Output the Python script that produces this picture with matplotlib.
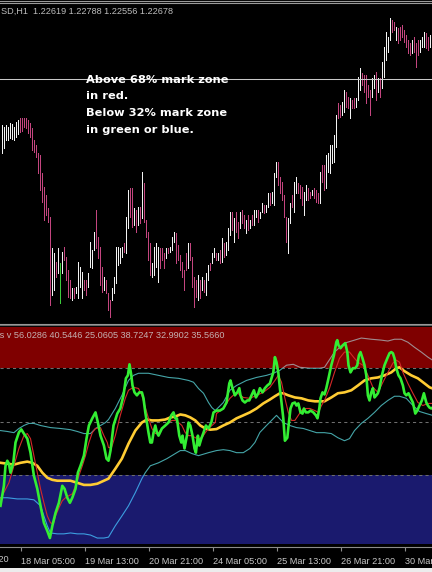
import matplotlib
matplotlib.use("Agg")
import matplotlib.pyplot as plt
from matplotlib.patches import Rectangle
from matplotlib.lines import Line2D

# ---------------- data ----------------
symbol_title = "SD,H1  1.22619 1.22788 1.22556 1.22678"
ind_title = "ts v 56.0286 40.5446 25.0605 38.7247 32.9902 35.5660"
note_lines = ["Above 68% mark zone", "in red.", "Below 32% mark zone", "in green or blue."]
hline_level = 1.2195

bar_high = [
    1.2103, 1.2099, 1.2103, 1.2099, 1.2107, 1.2105, 1.2099, 1.2109, 1.2113, 1.2117,
    1.2117, 1.2117, 1.2117, 1.2113, 1.2107, 1.2097, 1.2073, 1.2063, 1.2047, 1.2043,
    1.2007, 1.1979, 1.1963, 1.1937, 1.1919, 1.1857, 1.1847, 1.1829, 1.1857, 1.1827,
    1.1849, 1.1859, 1.1839, 1.1813, 1.1793, 1.1777, 1.1777, 1.1779, 1.1829, 1.1819,
    1.1809, 1.1793, 1.1793, 1.1807, 1.1869, 1.1853, 1.1889, 1.1933, 1.1879, 1.1859,
    1.1819, 1.1799, 1.1793, 1.1767, 1.1753, 1.1777, 1.1799, 1.1859, 1.1859, 1.1857,
    1.1859, 1.1867, 1.1919, 1.1973, 1.1977, 1.1977, 1.1937, 1.1933, 1.1939, 1.1939,
    1.2009, 1.1987, 1.1913, 1.1889, 1.1867, 1.1827, 1.1859, 1.1867, 1.1859, 1.1857,
    1.1857, 1.1847, 1.1857, 1.1857, 1.1859, 1.1879, 1.1889, 1.1887, 1.1863, 1.1843,
    1.1829, 1.1813, 1.1847, 1.1867, 1.1867, 1.1839, 1.1799, 1.1793, 1.1803, 1.1793,
    1.1799, 1.1793, 1.1807, 1.1823, 1.1827, 1.1847, 1.1857, 1.1847, 1.1847, 1.1853,
    1.1877, 1.1867, 1.1869, 1.1897, 1.1929, 1.1929, 1.1917, 1.1929, 1.1909, 1.1929,
    1.1933, 1.1923, 1.1913, 1.1923, 1.1913, 1.1923, 1.1933, 1.1933, 1.1933, 1.1929,
    1.1947, 1.1943, 1.1943, 1.1967, 1.1967, 1.1969, 1.2007, 1.2029, 1.2029, 1.1999,
    1.1989, 1.1963, 1.1919, 1.1917, 1.1947, 1.1963, 1.1989, 1.1999, 1.1987, 1.1983,
    1.1979, 1.1969, 1.1983, 1.1977, 1.1969, 1.1973, 1.1977, 1.1973, 1.1967, 1.2009,
    1.2023, 1.2023, 1.2043, 1.2047, 1.2063, 1.2063, 1.2083, 1.2123, 1.2147, 1.2143,
    1.2149, 1.2173, 1.2169, 1.2159, 1.2157, 1.2153, 1.2157, 1.2157, 1.2199, 1.2217,
    1.2207, 1.2203, 1.2203, 1.2183, 1.2173, 1.2197, 1.2203, 1.2209, 1.2197, 1.2197,
    1.2229, 1.2259, 1.2289, 1.2279, 1.2317, 1.2313, 1.2309, 1.2299, 1.2297, 1.2299,
    1.2303, 1.2293, 1.2283, 1.2273, 1.2267, 1.2273, 1.2279, 1.2267, 1.2273, 1.2273,
    1.2279, 1.2289, 1.2287, 1.2279, 1.2283, 1.2279,
]
bar_low = [
    1.2047, 1.2057, 1.2073, 1.2073, 1.2077, 1.2075, 1.2073, 1.2079, 1.2085, 1.2089,
    1.2091, 1.2099, 1.2097, 1.2087, 1.2079, 1.2053, 1.2049, 1.2039, 1.2007, 1.1973,
    1.1949, 1.1913, 1.1923, 1.1909, 1.1743, 1.1763, 1.1773, 1.1799, 1.1807, 1.1747,
    1.1807, 1.1833, 1.1793, 1.1759, 1.1757, 1.1753, 1.1757, 1.1767, 1.1757, 1.1779,
    1.1757, 1.1773, 1.1763, 1.1779, 1.1819, 1.1817, 1.1853, 1.1857, 1.1837, 1.1783,
    1.1769, 1.1773, 1.1767, 1.1733, 1.1719, 1.1753, 1.1767, 1.1787, 1.1823, 1.1827,
    1.1839, 1.1849, 1.1847, 1.1897, 1.1919, 1.1899, 1.1903, 1.1889, 1.1903, 1.1907,
    1.1917, 1.1909, 1.1879, 1.1833, 1.1803, 1.1799, 1.1803, 1.1819, 1.1789, 1.1817,
    1.1833, 1.1817, 1.1837, 1.1847, 1.1849, 1.1853, 1.1869, 1.1827, 1.1833, 1.1813,
    1.1799, 1.1773, 1.1813, 1.1817, 1.1833, 1.1779, 1.1739, 1.1759, 1.1753, 1.1757,
    1.1773, 1.1769, 1.1763, 1.1793, 1.1813, 1.1827, 1.1839, 1.1833, 1.1833, 1.1827,
    1.1829, 1.1839, 1.1843, 1.1853, 1.1883, 1.1893, 1.1869, 1.1889, 1.1877, 1.1897,
    1.1907, 1.1897, 1.1887, 1.1893, 1.1897, 1.1903, 1.1903, 1.1919, 1.1909, 1.1917,
    1.1929, 1.1927, 1.1929, 1.1939, 1.1943, 1.1947, 1.1943, 1.1999, 1.1983, 1.1967,
    1.1953, 1.1919, 1.1869, 1.1847, 1.1907, 1.1939, 1.1929, 1.1967, 1.1967, 1.1957,
    1.1943, 1.1923, 1.1953, 1.1953, 1.1957, 1.1963, 1.1957, 1.1949, 1.1947, 1.1947,
    1.1989, 1.1973, 1.1977, 1.2009, 1.2007, 1.2027, 1.2029, 1.2059, 1.2117, 1.2119,
    1.2123, 1.2129, 1.2139, 1.2137, 1.2117, 1.2137, 1.2137, 1.2139, 1.2153, 1.2173,
    1.2183, 1.2169, 1.2147, 1.2159, 1.2123, 1.2159, 1.2177, 1.2153, 1.2169, 1.2159,
    1.2177, 1.2199, 1.2233, 1.2249, 1.2273, 1.2289, 1.2293, 1.2273, 1.2267, 1.2273,
    1.2279, 1.2269, 1.2259, 1.2247, 1.2243, 1.2247, 1.2249, 1.2219, 1.2243, 1.2249,
    1.2259, 1.2259, 1.2257, 1.2253, 1.2259, 1.2256,
]
# W = bull bar, P = bear bar, G = marked bar
bar_dir = ("WWWWWWWWWP" "PPPPPPPPPP" "PPPPPWWPWG" "WPPPPWPWWW" "WPPWWWWPPP"
           "PWPPPWWWWW" "WPWWPPWPWP" "WPPPPWWWWP" "PPWPWWWPPP" "PPPWPPPPWP"
           "WPWWPWWPWP" "WPWWWPWPPW" "PPWPWPWWPW" "WPWWPWWWPP" "PPPWWPWWPP"
           "PWWPPWPPPW" "PPWWWWWWPP" "WWPPWPPWWW" "PPPPPWWPWP" "WWWWWPPWPP"
           "PPPPPWPPPW" "WWPPWP")

tick_bars = [10, 42, 74, 106, 138, 170, 202]
tick_labels = ["18 Mar 05:00", "19 Mar 13:00", "20 Mar 21:00", "24 Mar 05:00",
               "25 Mar 13:00", "26 Mar 21:00", "30 Mar 05:00"]
first_label = "16 Mar 2020"
first_label_bar = -22

zone_high = 68
zone_mid = 50
zone_low = 32

green_bar = [-0.5, 1.2, 2, 2.9, 3.7, 4.5, 5.9, 7, 8.7, 9.9, 11.2, 12.9, 14.5, 16.2, 17.9, 19.5,
             21.2, 22.9, 24.2, 25.4, 27, 28.7, 30.4, 31.5, 32.9, 34.2, 35.4, 37, 38.2, 39.5,
             41.2, 42.5, 43.7, 45.4, 47, 48.2, 49.5, 51.2, 52.5, 53.5, 54.5, 56, 57.9, 59.4,
             61, 62.2, 63.2, 64, 64.9, 65.5, 66.5, 67.7, 68.9, 70.2, 71, 71.9, 72.7, 73.5,
             74.4, 75.2, 76, 76.9, 77.7, 78.5, 80.2, 81.9, 83.5, 84.9, 86, 86.9, 87.7, 88.9,
             89.9, 90.5, 91.5, 92.7, 93.5, 94.4, 95.5, 96.5, 97.2, 98.2, 98.9, 99.9, 101,
             102.2, 103.5, 104.9, 106, 107.5, 109.2, 110.9, 112.5, 113.9, 114.5, 115.5, 116.7,
             117.9, 118.9, 119.5, 120.5, 121.7, 122.9, 123.9, 125, 126.2, 127.2, 128.4, 129.2,
             130.5, 131.7, 132.9, 134.2, 135, 135.9, 136.7, 137.5, 138.4, 139.2, 140, 140.9,
             141.7, 142.9, 143.7, 144.5, 145.5, 146.7, 147.5, 148.4, 149.5, 150.5, 151.2,
             152.2, 153.4, 154.5, 155.9, 157.2, 158, 158.9, 159.5, 160.5, 161.5, 162.4, 163.5,
             164.9, 166.2, 167.4, 167.9, 168.5, 169.5, 170.7, 171.9, 172.9, 173.5, 174.5,
             175.7, 176.9, 177.9, 178.7, 179.5, 180.5, 181.5, 182.4, 183.2, 184, 184.9, 185.7,
             186.5, 187.4, 188.2, 189, 190.2, 191.5, 192.9, 194, 194.9, 195.7, 196.5, 197.4,
             198.5, 199.5, 200.7, 201.5, 202.4, 203.5, 204.5, 205.7, 206.9, 207.9, 209, 210.2,
             211.2, 212.4, 213.2, 214, 214.9, 215.5]
green_val = [21.8, 28.5, 35.2, 36.9, 35.9, 32.9, 36.2, 43.0, 46.4, 47.4, 46.0, 44.3, 39.6, 31.9,
             27.5, 21.8, 16.1, 13.4, 11.0, 15.0, 19.4, 22.8, 28.5, 27.5, 24.5, 22.8, 24.5, 27.5,
             32.9, 35.2, 38.6, 44.3, 48.7, 51.1, 53.1, 49.7, 45.3, 42.0, 37.6, 36.9, 40.3, 48.7,
             52.7, 54.4, 58.8, 64.5, 65.5, 69.2, 65.5, 62.1, 59.8, 58.8, 59.8, 59.8, 57.8, 53.1,
             49.7, 46.3, 43.0, 43.0, 46.3, 48.7, 46.3, 45.3, 47.7, 48.7, 49.7, 52.1, 53.1, 51.1,
             51.1, 45.3, 43.0, 45.3, 41.0, 45.3, 49.7, 48.7, 45.3, 41.0, 39.6, 45.3, 42.0, 44.3,
             46.3, 48.7, 47.7, 49.7, 53.1, 53.7, 53.7, 54.4, 56.4, 62.8, 63.8, 61.2, 58.8, 59.8,
             61.2, 58.8, 57.1, 56.4, 57.1, 57.1, 58.8, 60.5, 58.1, 59.5, 61.2, 59.8, 61.2, 62.1,
             62.8, 64.5, 66.5, 71.6, 69.9, 66.5, 61.2, 56.4, 51.1, 43.6, 44.6, 49.7, 54.4, 56.1,
             56.4, 55.4, 56.1, 53.1, 52.7, 54.4, 53.1, 53.1, 53.7, 53.1, 52.1, 51.1, 54.4, 57.8,
             59.8, 59.1, 61.2, 64.5, 68.9, 72.2, 76.6, 77.3, 75.6, 74.6, 75.6, 76.3, 73.3, 68.9,
             66.5, 67.9, 67.9, 68.9, 72.2, 73.3, 71.2, 68.9, 65.5, 58.8, 57.1, 59.8, 61.2, 58.1,
             58.8, 59.5, 61.2, 65.5, 68.9, 71.2, 72.9, 73.3, 72.9, 71.2, 67.9, 65.5, 64.5, 62.1,
             59.5, 58.8, 59.5, 58.1, 56.4, 52.7, 53.7, 55.4, 57.1, 59.5, 56.4, 55.4, 54.7, 54.4,
             54.7]

red_bar = [-0.5, 3.7, 6.2, 8.7, 11.2, 12.9, 14.5, 16.2, 17.9, 19.5, 21.2, 22.9, 24.5, 25.9, 27,
           28.7, 30.4, 32, 33.7, 35.4, 37, 38.7, 40.4, 42, 43.7, 45.4, 47, 49.5, 51.2, 52.9,
           53.5, 55, 56.9, 59.4, 61.9, 63.5, 66, 68.5, 70.2, 71.9, 73.5, 75.2, 76.9, 78.5,
           80.2, 81.9, 83.5, 85.2, 86.9, 88.5, 90.2, 91.9, 93.5, 95.2, 96.9, 98.5, 100.2,
           101.9, 103.5, 105.2, 106.9, 107.5, 110.9, 114.2, 117.5, 120.9, 124.2, 127.5, 130.9,
           134.2, 136.7, 138.4, 140, 141.7, 143.4, 145, 146.7, 148.4, 150, 151.7, 154.2,
           156.7, 158.4, 160, 161.5, 164, 166.5, 169, 171.5, 174, 176.5, 178.2, 180.7, 183.2,
           185.7, 188.2, 190.7, 193.2, 195.7, 197.4, 199, 200.7, 203.2, 205.7, 208.2, 210.7,
           213.2, 215.5]
red_val = [24.1, 29.5, 35.2, 41.0, 45.3, 46.0, 44.3, 38.6, 32.9, 27.5, 22.8, 18.4, 16.1, 15.7,
           18.4, 21.1, 23.5, 24.5, 25.2, 25.8, 28.5, 31.9, 35.2, 38.6, 43.0, 46.3, 47.7, 48.0,
           45.3, 43.0, 41.3, 41.3, 45.3, 52.1, 57.8, 60.5, 61.5, 61.1, 58.8, 54.7, 51.1, 47.7,
           46.0, 46.3, 47.7, 48.7, 49.7, 50.4, 50.4, 49.7, 48.7, 46.3, 45.3, 45.3, 44.6, 44.3,
           44.6, 46.3, 47.7, 48.7, 49.7, 52.7, 54.4, 57.8, 59.8, 58.1, 57.8, 58.8, 59.8, 61.5,
           63.8, 65.5, 63.2, 57.8, 53.1, 50.4, 50.4, 52.1, 53.7, 54.4, 54.4, 53.7, 53.1, 55.4,
           57.1, 61.2, 66.5, 71.2, 73.3, 73.3, 71.2, 69.9, 68.9, 65.5, 61.5, 59.8, 63.2, 66.5,
           69.6, 70.6, 69.9, 66.5, 62.8, 59.5, 56.4, 55.4, 56.1, 56.1]

yellow_bar = [-0.5, 2.9, 6.2, 9.5, 12.9, 15.4, 17.9, 20.4, 22.9, 25.4, 27.9, 31.2, 34.5, 37.9,
              41.2, 44.5, 47.9, 51.2, 53.5, 56.9, 60.2, 63.5, 66.9, 70.2, 72.7, 75.2, 78.5,
              81.9, 84.4, 86.9, 89.4, 91.9, 94.4, 96.9, 99.4, 101.9, 104.4, 107.5, 110.9,
              114.2, 117.5, 120.9, 124.2, 127.5, 130.9, 134.2, 136.7, 139.2, 140.9, 143.4,
              146.7, 150, 153.4, 156.7, 159.2, 161.5, 164.9, 168.2, 171.5, 174.9, 178.2, 181.5,
              184.9, 188.2, 191.5, 194.9, 197.4, 199, 201.5, 204.9, 208.2, 211.5, 214, 215.5]
yellow_val = [36.2, 35.9, 35.6, 36.2, 36.6, 36.2, 35.2, 32.9, 31.2, 30.5, 30.2, 30.2, 30.2, 29.5,
              28.8, 28.8, 29.2, 30.2, 30.9, 34.2, 37.6, 42.6, 47.0, 49.7, 50.7, 50.4, 50.4,
              50.7, 51.4, 51.7, 52.4, 52.1, 51.4, 50.4, 48.7, 47.7, 47.3, 47.5, 48.7, 49.7,
              51.1, 52.1, 53.1, 54.4, 56.1, 57.4, 58.5, 59.5, 59.5, 58.8, 58.1, 57.8, 57.1,
              56.8, 56.8, 56.8, 58.1, 59.5, 59.8, 60.5, 62.1, 63.8, 64.5, 64.8, 65.5, 66.5,
              67.9, 68.2, 66.9, 65.5, 64.5, 62.8, 61.5, 61.1]

upper_bar = [-0.5, 2.9, 6.2, 8.7, 11.2, 13.7, 16.2, 19.5, 24.5, 29.5, 34.5, 37.9, 41.2, 44.5,
             47, 49.5, 52, 53.5, 56.9, 60.2, 63.5, 66, 68.5, 73.5, 78.5, 83.5, 88.5, 93.5, 96,
             98.5, 101, 103.5, 105.2, 106.9, 110.9, 114.2, 117.5, 122.5, 127.5, 132.5, 135.9,
             139.2, 142.5, 145.9, 149.2, 154.2, 159.2, 161.5, 166.5, 171.5, 176.5, 179.9, 184.9,
             189.9, 193.2, 196.5, 199.9, 203.2, 206.5, 209.9, 213.2, 215.5]
upper_val = [47.0, 46.7, 46.3, 47.7, 48.7, 49.4, 49.4, 48.7, 48.0, 47.7, 47.3, 46.7, 46.0, 46.0,
             47.7, 48.7, 49.7, 50.7, 54.4, 58.8, 63.8, 65.5, 66.2, 66.2, 65.5, 64.8, 64.5, 63.8,
             63.2, 61.1, 59.5, 56.4, 54.7, 53.7, 56.4, 60.5, 62.1, 63.8, 64.8, 65.5, 66.2, 67.2,
             68.9, 69.2, 68.2, 67.9, 67.9, 68.2, 73.3, 76.3, 77.3, 78.0, 77.6, 77.3, 77.0, 77.6,
             77.6, 76.6, 74.9, 73.3, 71.6, 70.6]

lower_bar = [-0.5, 2.9, 7.9, 12.9, 16.2, 19.5, 21.2, 22.9, 24.5, 27.9, 31.2, 34.5, 37.9, 41.2,
             44.5, 47.9, 51.2, 53.5, 56.9, 60.2, 63.5, 66.9, 70.2, 71.9, 74.4, 78.5, 82.7, 86.9,
             89.4, 91.9, 95.2, 98.5, 103.5, 107.5, 110.9, 114.2, 117.5, 120.9, 124.2, 126.7,
             129.2, 132.5, 135, 137.5, 140.9, 144.2, 147.5, 150.9, 154.2, 157.5, 161.5, 164.9,
             168.2, 171.5, 174, 176.5, 179.9, 183.2, 186.5, 189.9, 193.2, 196.5, 199, 202.4,
             205.7, 209, 212.4, 215.5]
lower_val = [24.5, 24.5, 24.1, 24.1, 23.8, 21.8, 18.4, 15.1, 12.7, 12.4, 12.4, 12.7, 12.4, 12.4,
             12.0, 11.0, 11.0, 11.3, 15.1, 18.4, 21.8, 26.2, 30.9, 32.9, 35.2, 36.2, 37.6, 39.3,
             40.3, 40.3, 39.3, 38.6, 39.6, 40.3, 40.6, 40.3, 39.6, 39.6, 41.0, 43.0, 46.4, 48.7,
             50.4, 52.1, 49.7, 48.7, 48.0, 47.7, 47.0, 46.3, 46.3, 46.0, 44.6, 43.6, 44.3, 47.0,
             49.4, 51.1, 53.1, 55.4, 57.1, 58.5, 58.5, 57.8, 55.4, 53.4, 52.7, 52.1]

# ---------------- figure ----------------
W, H = 432, 572
fig = plt.figure(figsize=(W / 100, H / 100), dpi=100, facecolor="black")


def fy(px):
    return 1 - px / H


def fx(px):
    return px / W


n_bars = len(bar_high)
xlim = (-0.75, n_bars - 0.75)

# price pane
ax_p = fig.add_axes([0, fy(323), 1, (323 - 4) / H])
ax_p.set_facecolor("black")
ax_p.set_xlim(*xlim)
ax_p.set_ylim(1.1707, 1.2345)
ax_p.axis("off")

col_map = {"W": "#f2f2f2", "P": "#c4457f", "G": "#3ccc3c"}
cols = [col_map[c] for c in bar_dir]
ax_p.vlines(range(n_bars), bar_low, bar_high, colors=cols, linewidth=0.72, antialiased=False)
ax_p.axhline(hline_level, color="#c8c8c8", lw=0.75)

# indicator pane
ax_i = fig.add_axes([0, fy(544), 1, (544 - 327) / H])
ax_i.set_facecolor("black")
ax_i.set_xlim(*xlim)
ax_i.set_ylim(9.0, 81.7)
ax_i.axhspan(zone_high, 200, color="#7f0000", lw=0)
ax_i.axhspan(-50, zone_low, color="#1a1a6e", lw=0)
for lvl in (zone_high, zone_mid, zone_low):
    ax_i.axhline(lvl, color="#6e6e6e", lw=0.75, dashes=(3, 3))


def band(xs, ys):
    regions = [(zone_high, 200, "#a08c90"), (zone_low, zone_high, "#45a5a8"), (-50, zone_low, "#3c9ee0")]
    for lo, hi, c in regions:
        ln, = ax_i.plot(xs, ys, color=c, lw=0.8)
        clip = Rectangle((xlim[0], lo), xlim[1] - xlim[0], hi - lo, transform=ax_i.transData)
        ln.set_clip_path(clip)


band(upper_bar, upper_val)
band(lower_bar, lower_val)
ax_i.plot(yellow_bar, yellow_val, color="#ffcc33", lw=1.9, solid_joinstyle="round")
ax_i.plot(red_bar, red_val, color="#d42828", lw=0.8)
ax_i.plot(green_bar, green_val, color="#33ee33", lw=1.9, solid_joinstyle="round")

for s in ("top", "left", "right"):
    ax_i.spines[s].set_visible(False)
ax_i.spines["bottom"].set_position(("outward", 2))
ax_i.spines["bottom"].set_color("#8c8c8c")
ax_i.spines["bottom"].set_linewidth(0.8)
ax_i.set_yticks([])
ax_i.set_xticks([b - 0.25 for b in tick_bars])
ax_i.set_xticklabels(tick_labels, fontsize=6.6, color="#c8c8c8", family="Liberation Sans", ha="left")
ax_i.tick_params(axis="x", direction="out", length=3, width=0.8, color="#8c8c8c", pad=4)

# partial first time label at the left edge, on the same line as the tick labels
x0_px = (first_label_bar - 0.25 - xlim[0]) / (xlim[1] - xlim[0]) * W
fig.text(fx(x0_px), fy(559), first_label, fontsize=6.6, color="#c8c8c8",
         family="Liberation Sans", ha="left", va="center")

# chrome lines
for ypx, c in ((0.5, "#9a9a9a"), (2.7, "#9a9a9a"), (323.8, "#9a9a9a"), (325.2, "#6a6a6a")):
    fig.add_artist(Line2D([0, 1], [fy(ypx), fy(ypx)], color=c, lw=0.8))
fig.add_artist(Rectangle((0, 0), 1, 4 / H, transform=fig.transFigure, color="#ececec", lw=0))

# titles
fig.text(fx(1), fy(11.7), symbol_title, fontsize=6.6, color="#bcbcbc", family="Liberation Sans",
         va="center", ha="left")
fig.text(fx(-3), fy(335.7), ind_title, fontsize=6.6, color="#c4b0b0", family="Liberation Sans",
         va="center", ha="left")

baselines = [82.6, 99.3, 116.0, 132.6]
for txt, b in zip(note_lines, baselines):
    fig.text(fx(86), fy(b), txt, fontsize=8.2, color="white", family="DejaVu Sans",
             fontweight="bold", va="baseline", ha="left")

fig.savefig("out.png", dpi=100, facecolor="black")
